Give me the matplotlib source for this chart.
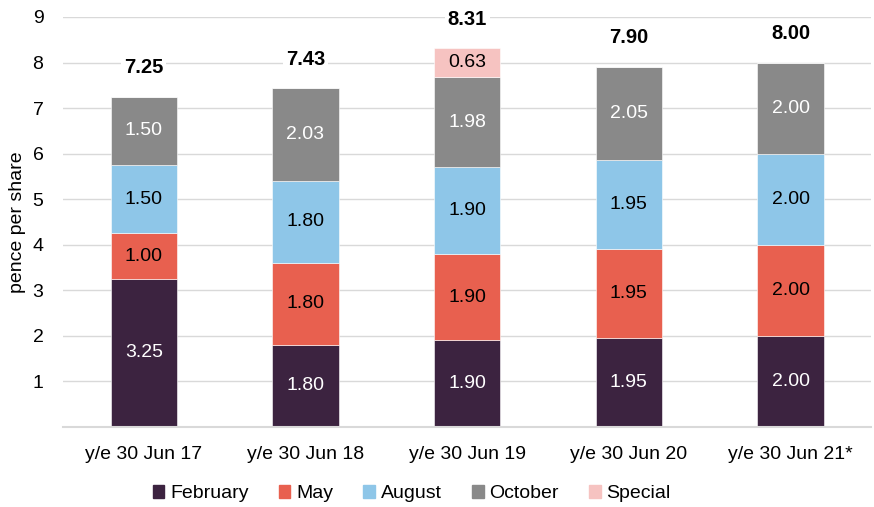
import numpy as np
import matplotlib.pyplot as plt
from matplotlib.patches import Rectangle

plt.rcParams['font.family'] = ['Liberation Sans', 'DejaVu Sans']

years = ['y/e 30 Jun 17', 'y/e 30 Jun 18', 'y/e 30 Jun 19', 'y/e 30 Jun 20', 'y/e 30 Jun 21*']
february = [3.25, 1.80, 1.90, 1.95, 2.00]
may = [1.00, 1.80, 1.90, 1.95, 2.00]
august = [1.50, 1.80, 1.90, 1.95, 2.00]
october = [1.50, 2.03, 1.98, 2.05, 2.00]
special = [0, 0, 0.63, 0, 0]
totals = [7.25, 7.43, 8.31, 7.90, 8.00]

series = [('February', february, '#3c2340', 'white'),
          ('May', may, '#e8604f', 'black'),
          ('August', august, '#8ec6e8', 'black'),
          ('October', october, '#898989', 'white'),
          ('Special', special, '#f6c3c1', 'black')]

fig = plt.figure(figsize=(8.74, 5.07), dpi=100)
ax = fig.add_axes([0.072, 0.158, 0.925, 0.8085])

x = np.arange(len(years))
bottom = np.zeros(len(years))
handles = []
for name, vals, col, tcol in series:
    vals = np.array(vals)
    ax.bar(x, vals, 0.41, bottom=bottom, color=col, edgecolor='white', linewidth=0.4, zorder=2)
    for xi, b, v in zip(x, bottom, vals):
        if v > 0:
            ax.text(xi, b + v / 2, f'{v:.2f}', ha='center', va='center', color=tcol, fontsize=14, zorder=3)
    bottom = bottom + vals
    handles.append(Rectangle((0, 0), 1, 1, color=col))

# totals above each bar
for xi, t in zip(x, totals):
    ax.annotate(f'{t:.2f}', (xi, t), xytext=(0, 21), textcoords='offset points',
                ha='center', va='center', fontsize=14.5, fontweight='bold',
                bbox=dict(facecolor='white', edgecolor='none', pad=2), zorder=4)

ax.set_xlim(-0.5, 4.5)
ax.set_ylim(0, 9)
ax.set_yticks(range(1, 10))
ax.set_xticks(x)
ax.set_xticklabels(years)
ax.tick_params(axis='both', length=0, labelsize=14, colors='black')
ax.tick_params(axis='x', pad=14)
ax.tick_params(axis='y', pad=14)
ax.grid(axis='y', color='#d9d9d9', linewidth=1, zorder=0)
ax.set_axisbelow(True)
for s in ['top', 'right', 'left']:
    ax.spines[s].set_visible(False)
ax.spines['bottom'].set_color('#d9d9d9')
ax.spines['bottom'].set_linewidth(1.5)
ax.set_ylabel('pence per share', fontsize=14, labelpad=5)

fig.legend(handles, [s[0] for s in series], loc='center', bbox_to_anchor=(0.471, 0.026),
           ncol=5, frameon=False, fontsize=14, handlelength=0.6, handleheight=0.6,
           handletextpad=0.3, columnspacing=1.55)

fig.savefig('out.png', dpi=100)
